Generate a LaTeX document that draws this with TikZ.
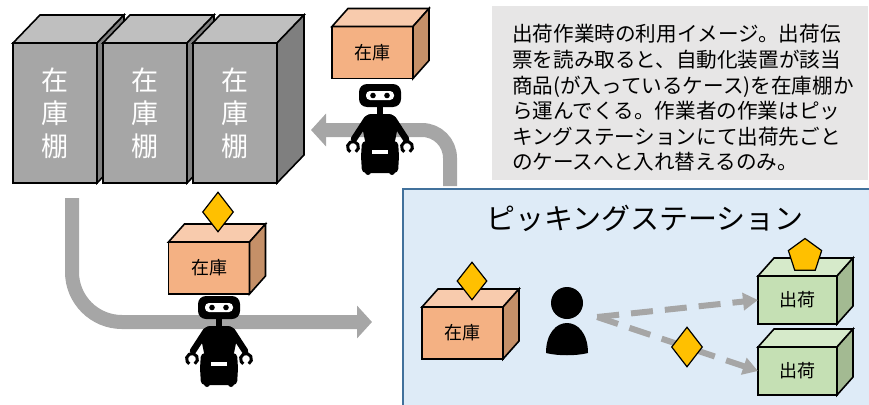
\documentclass[tikz,border=0pt]{standalone}
\usepackage{fontspec}
\newfontfamily\jp{Noto Sans CJK JP}
\usetikzlibrary{arrows.meta, calc, shapes.geometric, positioning}
\definecolor{shelffront}{RGB}{166,166,166}
\definecolor{shelftop}{RGB}{191,191,191}
\definecolor{shelfside}{RGB}{127,127,127}
\definecolor{stockfront}{RGB}{244,177,131}
\definecolor{stocktop}{RGB}{248,203,173}
\definecolor{stockside}{RGB}{197,144,104}
\definecolor{shipfront}{RGB}{197,224,180}
\definecolor{shiptop}{RGB}{214,234,202}
\definecolor{shipside}{RGB}{163,186,146}
\definecolor{tagyellow}{RGB}{255,192,0}
\definecolor{notebg}{RGB}{231,230,230}
\definecolor{stationbg}{RGB}{222,235,247}
\definecolor{stationline}{RGB}{65,113,156}
\definecolor{flow}{RGB}{166,166,166}

\begin{document}
\begin{tikzpicture}[x=1pt, y=-1pt,
    shelf/.style={draw, line width=1.6pt, fill=shelffront, minimum width=84pt, minimum height=140pt,
      outer sep=0pt, inner sep=0pt, text=white, align=center, font=\jp\fontsize{27}{33}\selectfont},
    face/.style={draw, line width=1.6pt},
    stock/.style={draw, line width=1.6pt, fill=stockfront, minimum width=81pt, minimum height=52pt,
      outer sep=0pt, inner sep=0pt, font=\jp\fontsize{18}{20}\selectfont},
    ship/.style={stock, fill=shipfront, minimum width=79pt, minimum height=48pt},
    tag/.style={diamond, draw, line width=1.2pt, fill=tagyellow, minimum width=31pt, minimum height=40pt, inner sep=0pt},
    conveyor/.style={draw=flow, line width=14pt, -{Triangle[length=15pt, width=32pt]}},
    pickline/.style={draw=flow, line width=6pt, dash pattern=on 22pt off 12pt, -{Triangle[length=15pt, width=17pt]}},
    robot/.pic={
      % head with eye slot
      \fill[rounded corners=8pt] (-21,0) rectangle (21,23);
      \fill[white, rounded corners=4pt] (-14,7) rectangle (14,16);
      \fill (-7,11.5) circle (2.8pt) (7,11.5) circle (2.8pt);
      % neck, torso, base
      \fill (-3,22) rectangle (3,31);
      \fill[rounded corners=6pt] (-15,30) -- (15,30) -- (18,42) -- (14,62) -- (-14,62) -- (-18,42) -- cycle;
      \fill[rounded corners=4pt] (-18,57) -- (18,57) -- (19,72) -- (18,89) -- (-18,89) -- (-19,72) -- cycle;
      \fill[white] (-8,66) rectangle (8,69.5);
      \fill (-12,88) circle (3pt) (12,88) circle (3pt);
      % arms and claws
      \draw[line width=6.5pt, line cap=round] (-13,35) -- (-26,55) (13,35) -- (26,55);
      \draw[line width=3pt] (-27,63) ++(-60:5.5pt) arc[start angle=-60, end angle=240, radius=5.5pt];
      \draw[line width=3pt] (27,63) ++(-60:5.5pt) arc[start angle=-60, end angle=240, radius=5.5pt];
    }]
    \useasboundingbox (0,0) rectangle (869,404);

    % note and station area
    \node[fill=notebg, minimum width=376pt, minimum height=174pt, inner sep=0pt] (note) at (680,93) {};
    \node[anchor=west, align=left, inner sep=0pt, font=\jp\fontsize{20.6}{25.6}\selectfont] (notetext) at (512,98)
      {出荷作業時の利用イメージ。出荷伝\\票を読み取ると、自動化装置が該当\\商品(が入っているケース)を在庫棚か\\ら運んでくる。作業者の作業はピッ\\キングステーションにて出荷先ごと\\のケースへと入れ替えるのみ。};
    \filldraw[fill=stationbg, draw=stationline, line width=1.6pt] (403,189) rectangle (880,420);
    \node[font=\jp\fontsize{29}{34}\selectfont] (title) at (645,218) {ピッキングステーション};

    % conveyor flow
    \coordinate (lift) at (450,186);
    \coordinate (back) at (311,130);
    \coordinate (out) at (72,198);
    \coordinate (in) at (372,322);
    \draw[conveyor, rounded corners=28pt] (lift) |- (back);
    \draw[conveyor, rounded corners=50pt] (out) |- (in);

    % shelves
    \foreach \i/\x in {1/55, 2/145, 3/235} {
      \node[shelf] (shelf\i) at (\x,113) {在\\庫\\棚};
      \filldraw[face, fill=shelftop] (shelf\i.north west) -- ++(27,-28) -- ($(shelf\i.north east)+(27,-28)$) -- (shelf\i.north east) -- cycle;
      \filldraw[face, fill=shelfside] (shelf\i.north east) -- ++(27,-28) -- ($(shelf\i.south east)+(27,-28)$) -- (shelf\i.south east) -- cycle;
    }

    % cases
    \node[stock] (carried) at (372.5,52.5) {在庫};
    \node[stock] (loaded) at (209,268) {在庫};
    \node[stock] (stock) at (462.5,333) {在庫};
    \node[ship] (ship1) at (797.5,300) {出荷};
    \node[ship] (ship2) at (797.5,371) {出荷};
    \foreach \n/\t/\s in {carried/stocktop/stockside, loaded/stocktop/stockside, stock/stocktop/stockside,
        ship1/shiptop/shipside, ship2/shiptop/shipside} {
      \filldraw[face, fill=\t] (\n.north west) -- ++(16,-18) -- ($(\n.north east)+(16,-18)$) -- (\n.north east) -- cycle;
      \filldraw[face, fill=\s] (\n.north east) -- ++(16,-18) -- ($(\n.south east)+(16,-18)$) -- (\n.south east) -- cycle;
    }

    % robots
    \pic at (380,84) {robot};
    \pic at (219,296) {robot};

    % worker
    \node[circle, fill, minimum size=32pt, inner sep=0pt] (worker) at (567,303) {};
    \fill (546,353) .. controls (546,313) and (588,313) .. (588,353) .. controls (576,356) and (558,356) .. (546,353) -- cycle;
    \draw[pickline] ([shift={(14,14)}]worker.east) -- (ship1.west);
    \draw[pickline] ([shift={(14,14)}]worker.east) -- (ship2.west);

    % item tags
    \node[tag] (tag1) at (218,212) {};
    \node[tag, minimum width=30pt, minimum height=38pt] (tag2) at (472,281) {};
    \node[tag] (tag3) at (687,347) {};
    \node[regular polygon, regular polygon sides=5, draw, line width=1.2pt, fill=tagyellow,
      minimum size=35pt, inner sep=0pt] (tag4) at (805,256) {};
\end{tikzpicture}
\end{document}
